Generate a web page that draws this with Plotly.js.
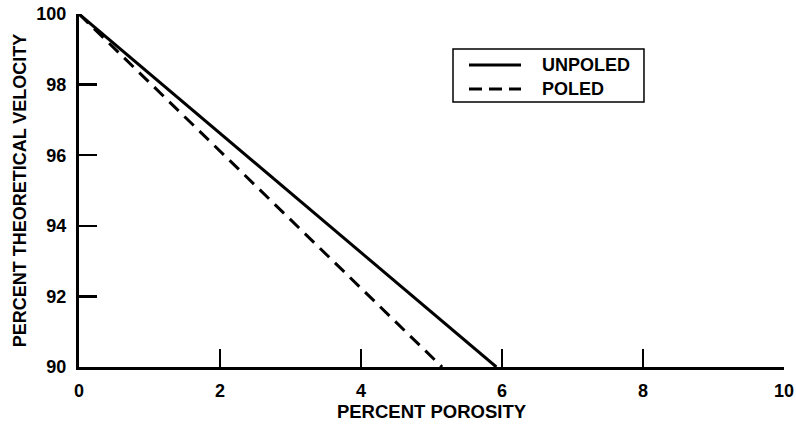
<!DOCTYPE html>
<html>
<head>
<meta charset="utf-8">
<script src="https://cdn.plot.ly/plotly-3.0.1.min.js"></script>
<style>html,body{margin:0;padding:0;background:#fff;}#chart{width:796px;height:425px;}</style>
</head>
<body>
<div id="chart"></div>
<script>
// Data
const unpoledPorosity = [0, 5.92];
const unpoledVelocity = [100, 90];
const poledPorosity = [0, 5.15];
const poledVelocity = [100, 90];
const xTicks = [0, 2, 4, 6, 8, 10];
const yTicks = [90, 92, 94, 96, 98, 100];
const seriesNames = ['UNPOLED', 'POLED'];

const font = "Liberation Sans, Arial, Helvetica, sans-serif";

const traces = [
  {x: unpoledPorosity, y: unpoledVelocity, mode: 'lines', name: seriesNames[0],
   line: {color: '#000', width: 3}, cliponaxis: false},
  {x: poledPorosity, y: poledVelocity, mode: 'lines', name: seriesNames[1],
   line: {color: '#000', width: 3, dash: '13px,8px'}, cliponaxis: false}
];

// Legend drawn as decoration (paper coordinates)
const legX0 = 0.5305, legX1 = 0.8014, legY0 = 0.7507, legY1 = 0.9008;
const sampX0 = 0.5532, sampX1 = 0.6270, textX = 0.6539;
const rowY = [0.8555, 0.7875];
const shapes = [
  {type: 'rect', xref: 'paper', yref: 'paper', x0: legX0, x1: legX1, y0: legY0, y1: legY1,
   line: {color: '#000', width: 1.5}, fillcolor: '#fff'},
  {type: 'line', xref: 'paper', yref: 'paper', x0: sampX0, x1: sampX1, y0: rowY[0], y1: rowY[0],
   line: {color: '#000', width: 3}},
  {type: 'line', xref: 'paper', yref: 'paper', x0: sampX0, x1: sampX1, y0: rowY[1], y1: rowY[1],
   line: {color: '#000', width: 3, dash: '13px,7px'}}
];
const annotations = seriesNames.map((n, i) => ({
  xref: 'paper', yref: 'paper', x: textX, y: rowY[i], xanchor: 'left', yanchor: 'middle',
  text: n, showarrow: false, font: {family: font, size: 18, weight: 'bold', color: '#000'}
}));

const layout = {
  width: 796, height: 425,
  margin: {l: 79, r: 12, t: 14, b: 58, pad: 0},
  paper_bgcolor: '#fff', plot_bgcolor: '#fff',
  font: {family: font, color: '#000', size: 15},
  showlegend: false,
  shapes: shapes,
  annotations: annotations,
  xaxis: {range: [0, 10], tickvals: xTicks, ticktext: xTicks.map(String),
    ticks: 'inside', ticklen: 18, tickwidth: 2.5, tickcolor: '#000',
    showline: true, linecolor: '#000', linewidth: 3, showgrid: false, zeroline: false,
    tickfont: {family: font, size: 18, weight: 'bold'}, ticklabelstandoff: 5,
    title: {text: 'PERCENT POROSITY', font: {family: font, size: 18.5, weight: 'bold'}, standoff: 4}},
  yaxis: {range: [90, 100], tickvals: yTicks, ticktext: yTicks.map(String),
    ticks: 'inside', ticklen: 18, tickwidth: 2.5, tickcolor: '#000',
    showline: true, linecolor: '#000', linewidth: 3, showgrid: false, zeroline: false,
    tickfont: {family: font, size: 18, weight: 'bold'}, ticklabelstandoff: 6,
    title: {text: 'PERCENT THEORETICAL VELOCITY', font: {family: font, size: 18, weight: 'bold'}, standoff: 6}}
};

Plotly.newPlot('chart', traces, layout, {staticPlot: true, displayModeBar: false});
</script>
</body>
</html>
